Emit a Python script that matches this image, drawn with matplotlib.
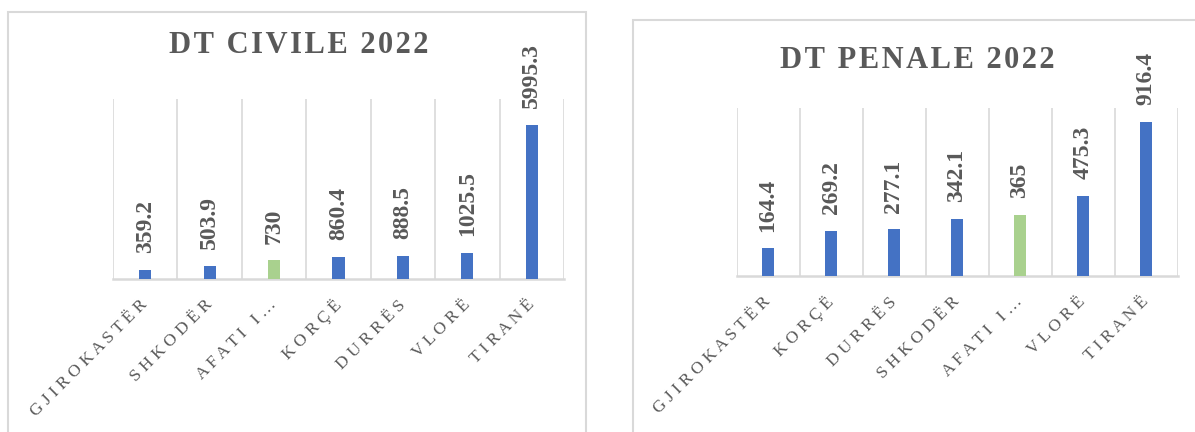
import matplotlib.pyplot as plt
import numpy as np
from matplotlib.patches import Rectangle

plt.rcParams["font.family"] = ["Liberation Serif", "DejaVu Serif"]

civil_cats = ["GJIROKASTËR", "SHKODËR", "AFATI I…", "KORÇË", "DURRËS", "VLORË", "TIRANË"]
civil_vals = [359.2, 503.9, 730, 860.4, 888.5, 1025.5, 5995.3]
civil_labels = ["359.2", "503.9", "730", "860.4", "888.5", "1025.5", "5995.3"]

penal_cats = ["GJIROKASTËR", "KORÇË", "DURRËS", "SHKODËR", "AFATI I…", "VLORË", "TIRANË"]
penal_vals = [164.4, 269.2, 277.1, 342.1, 365, 475.3, 916.4]
penal_labels = ["164.4", "269.2", "277.1", "342.1", "365", "475.3", "916.4"]

BLUE = "#4472C4"
GREEN = "#A9D18E"
TEXT = "#595959"
GRID = "#D9D9D9"

W, H = 1195, 432


def spaced(s, sep):
    return sep.join(s)


def draw_panel(fig, rect, cats, vals, labels, ymax, title, title_xy):
    ax = fig.add_axes(rect)
    x = np.arange(len(cats))
    colors = [GREEN if c.startswith("AFATI") else BLUE for c in cats]
    ax.bar(x, vals, width=0.19, color=colors, zorder=3)
    ax.set_xlim(-0.5, len(cats) - 0.5)
    ax.set_ylim(0, ymax)
    ax.vlines(np.arange(-0.5, len(cats), 1), 0, ymax, color=GRID, lw=1.2, zorder=1)
    for s in ["top", "left", "right"]:
        ax.spines[s].set_visible(False)
    ax.spines["bottom"].set_color(GRID)
    ax.spines["bottom"].set_linewidth(1.8)
    ax.set_yticks([])
    ax.set_xticks(x)
    ax.set_xticklabels([spaced(c, " ") for c in cats], rotation=45,
                       ha="right", va="center", rotation_mode="anchor",
                       fontsize=12.5, color=TEXT)
    ax.tick_params(axis="x", length=0, pad=17)
    for xi, v, lab in zip(x, vals, labels):
        ax.annotate(lab, (xi, v), xytext=(0, 12), textcoords="offset points",
                    rotation=90, ha="center", va="bottom", fontsize=17,
                    fontweight="bold", color=TEXT, annotation_clip=False)
    fig.text(title_xy[0], title_xy[1], spaced(title, "\u200a"), ha="center",
             va="baseline", fontsize=22, fontweight="bold", color=TEXT)
    return ax


fig = plt.figure(figsize=(W / 100, H / 100), dpi=100)

# panel borders
fig.patches.append(Rectangle((8 / W, -0.1), (586 - 8) / W, 1.1 - 12 / H,
                             transform=fig.transFigure, fill=False,
                             edgecolor=GRID, lw=1.5))
fig.patches.append(Rectangle((633 / W, -0.1), 0.6, 1.1 - 20 / H,
                             transform=fig.transFigure, fill=False,
                             edgecolor=GRID, lw=1.5))

draw_panel(fig, [113 / W, (H - 279) / H, 451 / W, 180 / H],
           civil_cats, civil_vals, civil_labels, 7000,
           "DT CIVILE 2022", (299 / W, 1 - 53 / H))
draw_panel(fig, [736.5 / W, (H - 276) / H, 441 / W, 168 / H],
           penal_cats, penal_vals, penal_labels, 1000,
           "DT PENALE 2022", (917 / W, 1 - 68 / H))

fig.savefig("out.png", dpi=100)
